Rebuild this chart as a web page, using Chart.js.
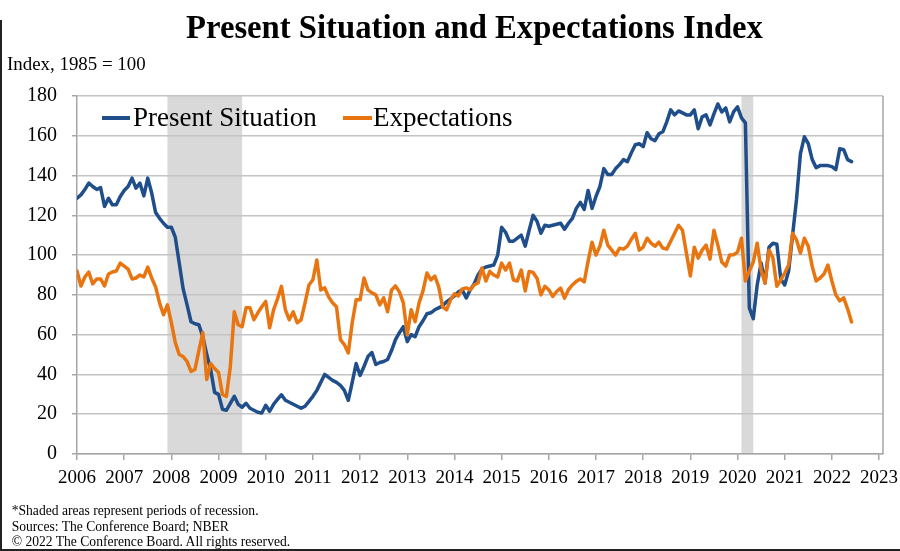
<!DOCTYPE html>
<html><head><meta charset="utf-8">
<script src="https://cdn.jsdelivr.net/npm/chart.js@4.4.0/dist/chart.umd.min.js"></script>
<style>
html,body{margin:0;padding:0;background:#fff;}
#wrap{position:relative;width:900px;height:551px;overflow:hidden;background:#fff;font-family:"Liberation Serif","Times New Roman",serif;color:#000;}
#c{position:absolute;left:0;top:0;}
.t{position:absolute;white-space:nowrap;line-height:1;}
.sw{position:absolute;height:4px;}
#frameL{position:absolute;left:0;top:20px;width:2px;bottom:0;background:#222;}
#frameB{position:absolute;left:0;right:0;bottom:0;height:2.5px;background:#222;}
</style></head>
<body><div id="wrap">
<canvas id="c" width="900" height="551"></canvas>
<div class="t" id="title" style="left:186px;top:10.7px;font-size:32.7px;font-weight:bold;">Present Situation and Expectations Index</div>
<div class="t" style="left:7px;top:55.2px;font-size:18.9px;">Index, 1985 = 100</div>
<div class="sw" style="left:102px;top:115.5px;width:28px;background:#1f4e8a;"></div>
<div class="t" style="left:133px;top:104px;font-size:27px;">Present Situation</div>
<div class="sw" style="left:343px;top:115.5px;width:29px;background:#e8750f;"></div>
<div class="t" style="left:373px;top:104px;font-size:27px;">Expectations</div>
<div class="t" style="left:11.7px;top:503.6px;font-size:13.6px;">*Shaded areas represent periods of recession.</div>
<div class="t" style="left:11.7px;top:519.6px;font-size:13.6px;">Sources: The Conference Board; NBER</div>
<div class="t" style="left:11.7px;top:534.6px;font-size:13.6px;">© 2022 The Conference Board. All rights reserved.</div>
<div id="frameL"></div><div id="frameB"></div>
</div>
<script>
// Tick labels (one per January, month index = 12 * position)
const years = ['2006','2007','2008','2009','2010','2011','2012','2013','2014','2015','2016','2017','2018','2019','2020','2021','2022','2023'];
const yTicks = [0,20,40,60,80,100,120,140,160,180];
// Recession periods as [start, end] month indices from Jan 2006
const recessions = [[23,42],[169,172]];
// Monthly values, Jan 2006 - Jun 2022
const presentSituation = [
128.6,130.3,133,136.2,134.5,133,134,124.5,128.6,125.3,125.3,129.5,
132.5,134.5,138.7,133.7,136.2,129.8,138.7,131.2,121.4,118.5,116,114,
114,109,96,83,75,66.5,65.5,65,59,50,42.4,31,
30,22.5,22,25.5,29,25,23.5,25.5,23,22,21,20.6,
24.5,21.5,25,27.5,29.8,27,26,25,24,23,24,26.5,
29,32,36,40,38.5,37,36,34.5,32,27,36,45.5,
39.5,44,49,51,45,46,46.5,47.5,52,57.5,61,64,
56.5,60,59,64,67,70.5,71,72.5,73.5,74.5,76.5,78,
79.5,81.5,82.5,78.5,82.5,85.5,90,93,94,94.5,95,100,
114,111.5,107,107,108.5,110,104.5,112.5,120,117,111,115,
114.5,115,115.5,116,113,116,118.5,123.5,126.5,123,132.5,123.5,
129.5,134.5,143.5,140.5,140.5,143.5,145.5,148,147,151.5,155.5,156,
154.5,161.5,158.5,157.5,161,162,167,173,170.5,172.5,171.5,170.5,
170.5,173,163.5,169.5,170.5,165.5,171,176,172,174,167,172,
174.5,169,166.5,73.5,68,85,96,86,104,106,105.5,88,
85,92,110,128,151,159.5,156,148,144,145,145,145,
144.5,143,153.5,153,148,147
];
const expectations = [
92,84.5,89,91.5,85.5,88,88,84.5,90.5,91.5,92,96,
94.5,93,88,88.5,90,89,94,88.5,84,76,70,75,
66,56,50,49,46.5,41.5,42.5,52,61,37.5,45.5,43,
41,30,29,44,71.5,65,64,73.5,73.5,67.5,71,74,
76.7,63.5,72.5,78,84.3,72.5,67.5,71.5,66,67.5,76,85,
87.6,97.5,82.5,83.5,79,76,74,57.5,55,50.8,66,77.5,
77.5,88.5,82.5,81,80,75,78.5,71.5,82.5,84.5,81.5,76,
60,72.5,66.5,76,82,91,87.5,89.5,84,74,72.5,77.5,
80.5,79.5,83,83.5,82.5,85,86,93.5,87,91.8,90,89,
96,92.5,96,87.5,87,92.5,82,91.8,91.3,88.4,80,84.3,
82.6,79.2,81.7,83.4,78.4,82.6,85,86.8,88,86.5,97,106.5,
100,104.5,112.5,105,102.5,100,103.5,103,104.5,108,111,102.5,
104,108.5,106,104.5,106.5,103.5,103,107,111,115,112.5,101,
89.5,104,98.5,102.5,105,98,112.5,105,96.5,94.5,100,100.2,
101.5,108.5,87,92,96.5,106,92.5,86,102.5,98.5,84.3,87.5,
91,95,111,107.7,101,108.5,104.4,94.3,87,88.5,90.5,95,
87,80,77,78.5,73,66.4
];

const FONT = '"Liberation Serif","Times New Roman",serif';
const AXIS = '#a6a6a6';
const toPoints = arr => arr.map((v, i) => ({x: i, y: v}));

const recessionPlugin = {
  id: 'recessions',
  beforeDraw(chart) {
    const {ctx, chartArea: a, scales: {x}} = chart;
    ctx.save();
    ctx.fillStyle = '#d9d9d9';
    recessions.forEach(([s, e]) => {
      const x0 = x.getPixelForValue(s), x1 = x.getPixelForValue(e);
      ctx.fillRect(x0, a.top, x1 - x0, a.bottom - a.top);
    });
    ctx.restore();
  },
  beforeDatasetsDraw(chart) {
    const {ctx, chartArea: a} = chart;
    ctx.save();
    ctx.strokeStyle = AXIS;
    ctx.lineWidth = 1.5;
    ctx.beginPath();
    ctx.moveTo(a.right, a.top);
    ctx.lineTo(a.right, a.bottom);
    ctx.stroke();
    ctx.restore();
  }
};

new Chart(document.getElementById('c'), {
  type: 'line',
  data: {
    datasets: [
      {label: 'Present Situation', data: toPoints(presentSituation), borderColor: '#1f4e8a', borderWidth: 3.5,
       pointRadius: 0, borderJoinStyle: 'round', borderCapStyle: 'round', order: 1},
      {label: 'Expectations', data: toPoints(expectations), borderColor: '#e8750f', borderWidth: 3.5,
       pointRadius: 0, borderJoinStyle: 'round', borderCapStyle: 'round', order: 0}
    ]
  },
  options: {
    responsive: false,
    devicePixelRatio: 1,
    animation: false,
    layout: {padding: {top: 96, right: 17, bottom: 0, left: 0}},
    plugins: {legend: {display: false}, tooltip: {enabled: false}},
    scales: {
      x: {
        type: 'linear', min: 0, max: 205,
        afterBuildTicks: s => { s.ticks = years.map((y, k) => ({value: k * 12})); },
        afterFit: s => { s.height = 97; s.paddingLeft = 0; s.paddingRight = 0; },
        grid: {drawOnChartArea: false, drawTicks: true, tickLength: 6, color: AXIS, lineWidth: 1.5},
        border: {color: AXIS, width: 1.5},
        ticks: {padding: 7, maxRotation: 0, autoSkip: false, color: '#000',
                font: {family: FONT, size: 19},
                callback: (v, i) => years[i]}
      },
      y: {
        min: 0, max: 180,
        afterBuildTicks: s => { s.ticks = yTicks.map(v => ({value: v})); },
        afterFit: s => { s.width = 77; s.paddingTop = 0; s.paddingBottom = 0; },
        grid: {color: '#c4c4c4', lineWidth: 1.5, drawTicks: true, tickLength: 5, tickColor: AXIS},
        border: {color: AXIS, width: 1.5},
        ticks: {padding: 15, color: '#000', font: {family: FONT, size: 20}}
      }
    }
  },
  plugins: [recessionPlugin]
});
</script>
</body></html>
